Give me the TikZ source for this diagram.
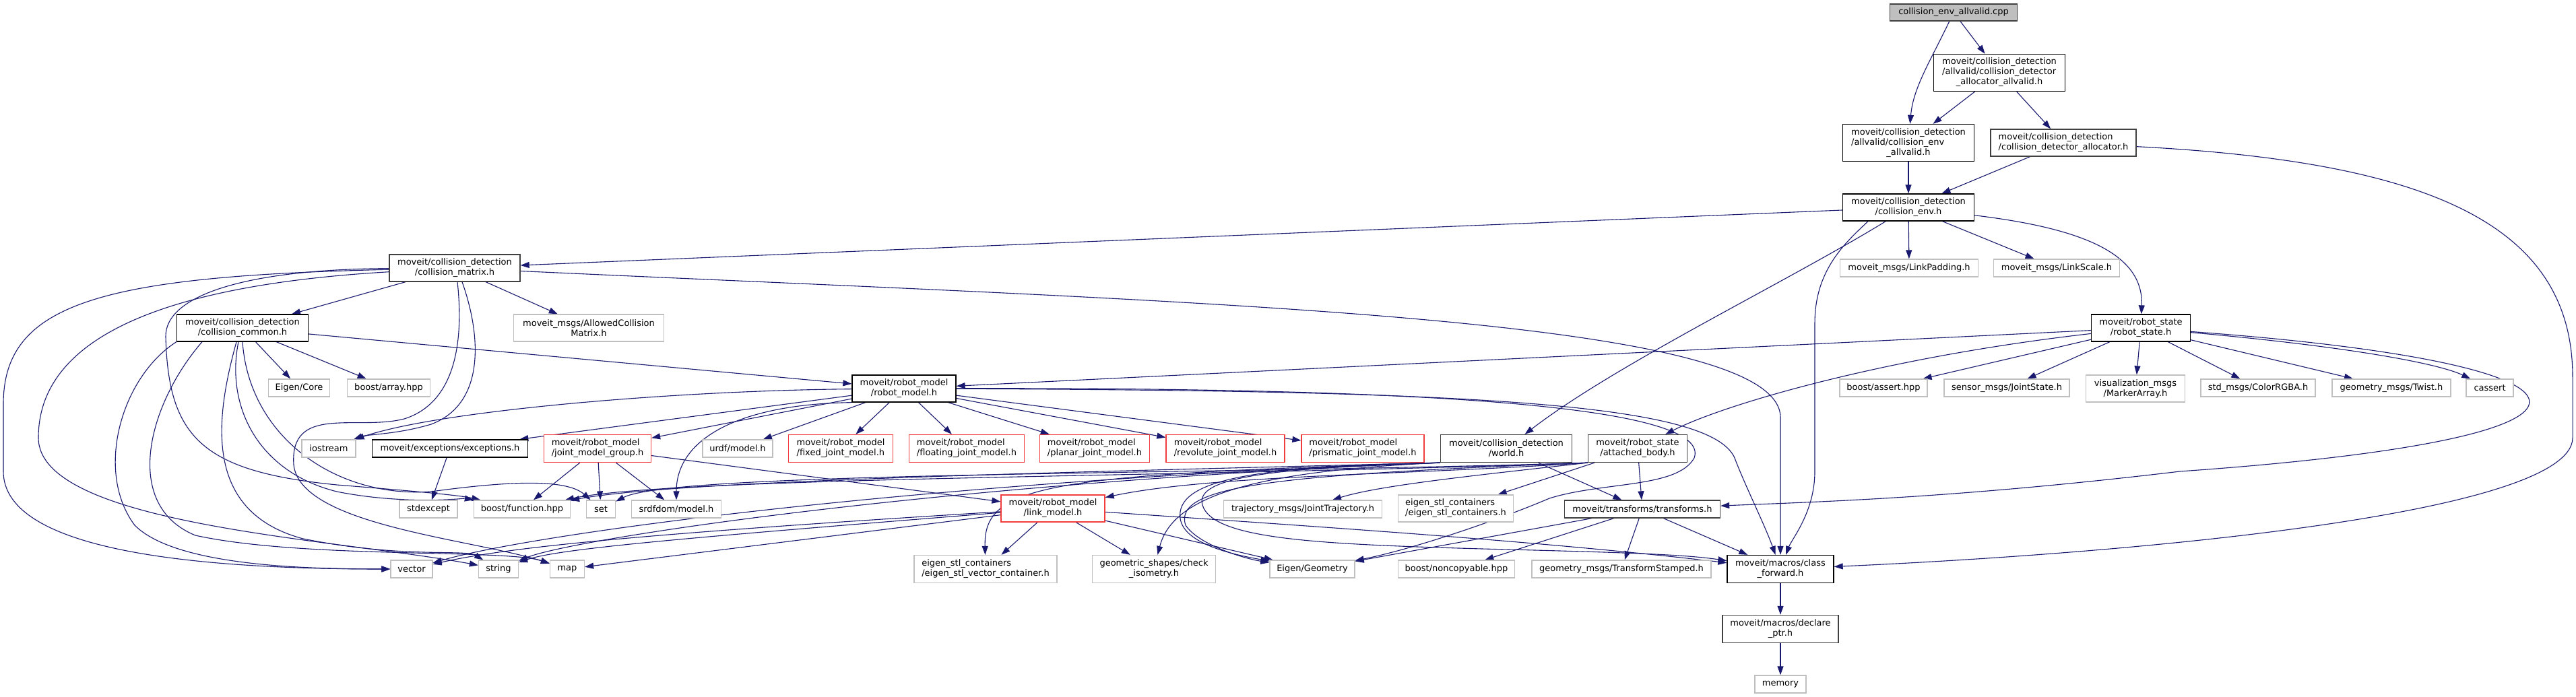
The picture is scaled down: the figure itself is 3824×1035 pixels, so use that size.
\documentclass[tikz,border=0pt]{standalone}
\usepackage{fontspec}
\setmainfont{DejaVu Sans}
\usetikzlibrary{arrows.meta}
\definecolor{edgec}{HTML}{191970}
\definecolor{grayb}{HTML}{BFBFBF}
\definecolor{redb}{HTML}{F03C3C}
\definecolor{darkb}{HTML}{404040}
\newcommand\nodefont{\fontsize{13pt}{15pt}\selectfont}
\pgfdeclarelayer{bg}
\pgfsetlayers{bg,main}
\tikzset{
  base/.style={draw, rectangle, inner sep=0pt, line width=1.3pt, font=\nodefont, align=center, fill=white},
  bnode/.style={base, draw=black},
  dnode/.style={base, draw=darkb},
  gnode/.style={base, draw=grayb},
  rnode/.style={base, draw=redb},
  rootnode/.style={base, draw=darkb, fill=grayb},
  e/.style={draw=edgec, line width=1.1pt, -{Triangle[length=13pt,width=9pt]}},
}
\begin{document}
\begin{tikzpicture}[x=1pt,y=1pt]
\useasboundingbox (0,0) rectangle (3824,-1035);
\begin{pgfonlayer}{bg}
\fill[white] (0,0) rectangle (3824,-1035);
\end{pgfonlayer}
% nodes
\node[rootnode, minimum width=189pt, minimum height=25pt] (root) at (2900,-18.5) {collision\_env\_allvalid.cpp};
\node[bnode, minimum width=195pt, minimum height=55pt] (allocav) at (2968,-108) {\begin{tabular}{@{}l@{}}moveit/collision\_detection\\/allvalid/collision\_detector\\\multicolumn{1}{@{}c@{}}{\_allocator\_allvalid.h}\end{tabular}};
\node[bnode, minimum width=195pt, minimum height=55pt] (envav) at (2833,-212) {\begin{tabular}{@{}l@{}}moveit/collision\_detection\\/allvalid/collision\_env\\\multicolumn{1}{@{}c@{}}{\_allvalid.h}\end{tabular}};
\node[dnode, minimum width=216pt, minimum height=40pt, align=left] (alloc) at (3063,-212) {moveit/collision\_detection\\/collision\_detector\_allocator.h};
\node[bnode, minimum width=195pt, minimum height=40pt] (env) at (2833,-308) {moveit/collision\_detection\\/collision\_env.h};
\node[dnode, minimum width=194pt, minimum height=40pt] (cm) at (675,-398) {moveit/collision\_detection\\/collision\_matrix.h};
\node[gnode, minimum width=205pt, minimum height=26pt] (padding) at (2834,-398) {moveit\_msgs/LinkPadding.h};
\node[gnode, minimum width=187pt, minimum height=26pt] (lscale) at (3053,-398) {moveit\_msgs/LinkScale.h};
\node[bnode, minimum width=147pt, minimum height=40pt] (rs) at (3178,-487) {moveit/robot\_state\\/robot\_state.h};
\node[bnode, minimum width=195pt, minimum height=40pt] (cc) at (360,-487) {moveit/collision\_detection\\/collision\_common.h};
\node[gnode, minimum width=223pt, minimum height=40pt] (acm) at (874,-487) {moveit\_msgs/AllowedCollision\\Matrix.h};
\node[gnode, minimum width=91pt, minimum height=26pt] (eigcore) at (444,-576) {Eigen/Core};
\node[gnode, minimum width=123pt, minimum height=26pt] (array) at (577,-576) {boost/array.hpp};
\node[bnode, minimum width=154pt, minimum height=40pt] (rm) at (1342,-577) {moveit/robot\_model\\/robot\_model.h};
\node[gnode, minimum width=130pt, minimum height=26pt] (bassert) at (2796,-576) {boost/assert.hpp};
\node[gnode, minimum width=186pt, minimum height=26pt] (jstate) at (2979,-576) {sensor\_msgs/JointState.h};
\node[gnode, minimum width=147pt, minimum height=40pt] (marker) at (3170,-577) {visualization\_msgs\\/MarkerArray.h};
\node[gnode, minimum width=170pt, minimum height=26pt] (color) at (3352,-576) {std\_msgs/ColorRGBA.h};
\node[gnode, minimum width=176pt, minimum height=26pt] (twist) at (3550,-576) {geometry\_msgs/Twist.h};
\node[gnode, minimum width=70pt, minimum height=26pt] (cassert) at (3696,-576) {cassert};
\node[gnode, minimum width=80pt, minimum height=26pt] (iostream) at (488,-666) {iostream};
\node[bnode, minimum width=231pt, minimum height=26pt] (exc) at (668,-666) {moveit/exceptions/exceptions.h};
\node[rnode, minimum width=159pt, minimum height=41pt, align=left] (jmg) at (887,-666) {moveit/robot\_model\\/joint\_model\_group.h};
\node[gnode, minimum width=104pt, minimum height=26pt] (urdf) at (1095,-666) {urdf/model.h};
\node[rnode, minimum width=155pt, minimum height=41pt, align=left] (fixed) at (1248,-666) {moveit/robot\_model\\/fixed\_joint\_model.h};
\node[rnode, minimum width=171pt, minimum height=41pt, align=left] (floating) at (1435,-666) {moveit/robot\_model\\/floating\_joint\_model.h};
\node[rnode, minimum width=163pt, minimum height=41pt, align=left] (planar) at (1625,-666) {moveit/robot\_model\\/planar\_joint\_model.h};
\node[rnode, minimum width=176pt, minimum height=41pt, align=left] (revolute) at (1819,-666) {moveit/robot\_model\\/revolute\_joint\_model.h};
\node[rnode, minimum width=182pt, minimum height=41pt, align=left] (prismatic) at (2023,-666) {moveit/robot\_model\\/prismatic\_joint\_model.h};
\node[dnode, minimum width=195pt, minimum height=41pt] (world) at (2236,-666) {moveit/collision\_detection\\/world.h};
\node[dnode, minimum width=147pt, minimum height=41pt] (ab) at (2431,-666) {moveit/robot\_state\\/attached\_body.h};
\node[gnode, minimum width=86pt, minimum height=26pt] (stdexcept) at (636,-756) {stdexcept};
\node[gnode, minimum width=143pt, minimum height=26pt] (function) at (775,-756) {boost/function.hpp};
\node[gnode, minimum width=43pt, minimum height=26pt] (set) at (892,-756) {set};
\node[gnode, minimum width=133pt, minimum height=26pt] (srdf) at (1004,-756) {srdfdom/model.h};
\node[rnode, minimum width=154pt, minimum height=40pt] (lm) at (1563,-755) {moveit/robot\_model\\/link\_model.h};
\node[gnode, minimum width=235pt, minimum height=26pt] (traj) at (1934,-756) {trajectory\_msgs/JointTrajectory.h};
\node[gnode, minimum width=171pt, minimum height=40pt, align=left] (eigstl) at (2161,-755) {eigen\_stl\_containers\\/eigen\_stl\_containers.h};
\node[dnode, minimum width=231pt, minimum height=26pt] (tf) at (2438,-756) {moveit/transforms/transforms.h};
\node[gnode, minimum width=62pt, minimum height=26pt] (vector) at (611,-845) {vector};
\node[gnode, minimum width=59pt, minimum height=26pt] (string) at (740,-845) {string};
\node[gnode, minimum width=51pt, minimum height=26pt] (map) at (842,-845) {map};
\node[gnode, minimum width=212pt, minimum height=41pt, align=left] (eigvec) at (1463,-845) {eigen\_stl\_containers\\/eigen\_stl\_vector\_container.h};
\node[gnode, minimum width=183pt, minimum height=41pt] (iso) at (1713,-845) {geometric\_shapes/check\\\_isometry.h};
\node[gnode, minimum width=126pt, minimum height=26pt] (eiggeo) at (1948,-845) {Eigen/Geometry};
\node[gnode, minimum width=173pt, minimum height=26pt] (noncopy) at (2162,-845) {boost/noncopyable.hpp};
\node[gnode, minimum width=266pt, minimum height=26pt] (tfst) at (2407,-845) {geometry\_msgs/TransformStamped.h};
\node[bnode, minimum width=158pt, minimum height=41pt] (cf) at (2643,-845) {moveit/macros/class\\\_forward.h};
\node[dnode, minimum width=172pt, minimum height=41pt] (dp) at (2643,-934) {moveit/macros/declare\\\_ptr.h};
\node[gnode, minimum width=76pt, minimum height=26pt] (memory) at (2643,-1016) {memory};

\begin{pgfonlayer}{bg}
% root level
\draw[e] (root) .. controls (2866,-90) and (2840,-130) .. (envav);
\draw[e] (root) -- (allocav);
\draw[e] (allocav) -- (envav);
\draw[e] (allocav) -- (alloc);
\draw[e] (envav) -- (env);
\draw[e] (alloc) -- (env);
\draw[e] (alloc) .. controls (3600,-240) and (3819,-330) .. (3819,-560) -- (3819,-650) .. controls (3819,-760) and (3200,-820) .. (cf);
% collision_env
\draw[e] (env) -- (cm);
\draw[e] (env) .. controls (2650,-420) and (2400,-540) .. (world);
\draw[e] ([xshift=-60pt]env.south) .. controls (2740,-360) and (2694,-400) .. (2694,-480) -- (2694,-700) .. controls (2694,-760) and (2660,-800) .. (cf);
\draw[e] (env) -- (padding);
\draw[e] (env) -- (lscale);
\draw[e] (env) .. controls (3100,-340) and (3182,-380) .. (rs);
% collision_matrix
\draw[e] (cm) -- (cc);
\draw[e] (cm) -- (acm);
\draw[e] (cm) .. controls (1800,-450) and (2643,-470) .. (2643,-620) -- (cf);
\draw[e] ([xshift=11pt]cm.south) .. controls (715,-500) and (720,-600) .. (640,-630) .. controls (590,-645) and (545,-645) .. (iostream);
\draw[e] ([xshift=4pt]cm.south) .. controls (690,-520) and (670,-600) .. (600,-622) .. controls (530,-640) and (430,-600) .. (436,-690) .. controls (445,-780) and (700,-800) .. (map);
\draw[e] (cm) .. controls (150,-410) and (5,-450) .. (5,-600) -- (5,-700) .. controls (5,-820) and (300,-845) .. (vector);
\draw[e] (cm) .. controls (300,-420) and (57,-480) .. (57,-650) .. controls (57,-780) and (500,-800) .. (string);
\draw[e] (cm) .. controls (360,-400) and (245,-440) .. (246,-500) .. controls (250,-650) and (300,-700) .. (500,-720) .. controls (600,-728) and (680,-735) .. (function);
% collision_common
\draw[e] (cc) -- (eigcore);
\draw[e] (cc) -- (array);
\draw[e] (cc) -- (rm);
\draw[e] (cc.south west) .. controls (180,-560) and (140,-700) .. (200,-780) .. controls (260,-840) and (450,-845) .. (vector);
\draw[e] ([xshift=-60pt]cc.south) .. controls (220,-600) and (180,-750) .. (290,-795) .. controls (450,-830) and (750,-815) .. (map);
\draw[e] ([xshift=-9pt]cc.south) .. controls (320,-620) and (300,-760) .. (450,-800) .. controls (600,-830) and (690,-815) .. (string);
\draw[e] ([xshift=-6pt]cc.south) .. controls (335,-600) and (380,-700) .. (500,-730) .. controls (600,-750) and (690,-740) .. (function);
\draw[e] (cc.south) .. controls (370,-650) and (500,-740) .. (640,-730) .. controls (750,-715) and (840,-710) .. (set);
% robot_model
\draw[e] (rm) .. controls (1000,-580) and (650,-610) .. (iostream);
\draw[e] (rm) -- (exc);
\draw[e] (rm) -- (jmg);
\draw[e] (rm.south west) .. controls (1100,-600) and (1004,-650) .. (srdf);
\draw[e] (rm) -- (urdf);
\draw[e] (rm) -- (fixed);
\draw[e] (rm) -- (floating);
\draw[e] (rm) -- (planar);
\draw[e] (rm) -- (revolute);
\draw[e] (rm) -- (prismatic);
\draw[e] (rm) .. controls (2200,-580) and (2540,-600) .. (2575,-680) .. controls (2590,-720) and (2620,-780) .. (cf);
\draw[e] (rm) .. controls (2200,-575) and (2540,-610) .. (2515,-680) .. controls (2490,-725) and (2380,-715) .. (2300,-740) .. controls (2230,-770) and (2100,-815) .. (eiggeo);
% joint_model_group, exceptions
\draw[e] (jmg) -- (function);
\draw[e] (jmg) -- (set);
\draw[e] (jmg) -- (srdf);
\draw[e] (jmg) -- (lm);
\draw[e] (exc) -- (stdexcept);
% link_model
\draw[e] (lm) -- (eigvec);
\draw[e] (lm) -- (iso);
\draw[e] (lm) -- (eiggeo);
\draw[e] (lm) .. controls (2000,-785) and (2300,-805) .. (cf);
\draw[e] (lm) .. controls (1000,-790) and (765,-810) .. (vector);
\draw[e] (lm) .. controls (1000,-800) and (830,-815) .. (string);
\draw[e] (lm) -- (map);
% world
\draw[e] (world) -- (tf);
\draw[e] (world.south west) .. controls (1850,-695) and (1775,-715) .. (1785,-750) .. controls (1800,-800) and (1950,-808) .. (2200,-815) .. controls (2400,-820) and (2500,-823) .. (cf);
\draw[e] (world.south west) .. controls (1850,-692) and (1745,-715) .. (1752,-770) .. controls (1758,-810) and (1840,-825) .. (eiggeo);
\draw[e] (world.south west) .. controls (1850,-700) and (1740,-740) .. (iso);
\draw[e] (world.south west) .. controls (1550,-705) and (1460,-720) .. (eigvec);
\draw[e] (world.south west) .. controls (1400,-712) and (800,-790) .. (vector);
\draw[e] (world.south west) .. controls (1400,-716) and (850,-800) .. (string);
\draw[e] (world.south west) .. controls (1500,-703) and (1000,-715) .. (function);
% attached_body
\draw[e] (ab) -- (tf);
\draw[e] (ab) -- (eigstl);
\draw[e] (ab.south west) .. controls (2200,-705) and (2050,-720) .. (traj);
\draw[e] (ab.south west) .. controls (2100,-705) and (1800,-705) .. (lm);
\draw[e] (ab.south west) .. controls (1800,-705) and (1000,-700) .. (set);
\draw[e] (ab.south west) .. controls (1800,-708) and (1000,-708) .. (function);
\draw[e] (ab.south west) .. controls (1900,-705) and (1740,-720) .. (1760,-780) .. controls (1780,-810) and (1850,-830) .. (eiggeo);
% robot_state
\draw[e] (rs) -- (rm);
\draw[e] (rs) .. controls (2800,-530) and (2560,-600) .. (ab);
\draw[e] (rs) -- (bassert);
\draw[e] (rs) -- (jstate);
\draw[e] (rs) -- (marker);
\draw[e] (rs) -- (color);
\draw[e] (rs) -- (twist);
\draw[e] (rs) .. controls (3490,-515) and (3620,-540) .. (cassert);
\draw[e] (rs) .. controls (3900,-540) and (3950,-650) .. (3236,-700) .. controls (2900,-740) and (2700,-745) .. (tf);
% transforms
\draw[e] (tf) -- (eiggeo);
\draw[e] (tf) -- (noncopy);
\draw[e] (tf) -- (tfst);
\draw[e] (tf) -- (cf);
% macros
\draw[e] (cf) -- (dp);
\draw[e] (dp) -- (memory);
\end{pgfonlayer}
\end{tikzpicture}
\end{document}
